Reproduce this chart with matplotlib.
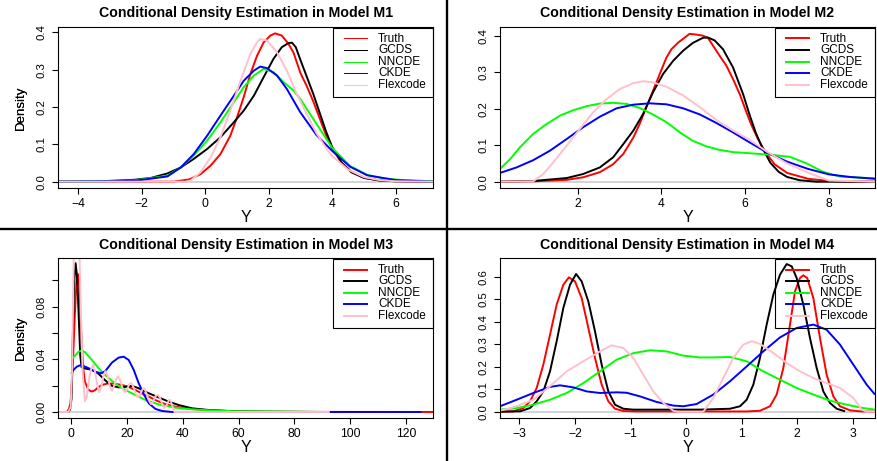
import matplotlib
matplotlib.use('Agg')
import matplotlib.pyplot as plt
from matplotlib.lines import Line2D
from matplotlib.patches import Rectangle

plt.rcParams['font.family'] = ['Liberation Sans', 'DejaVu Sans']

W, H = 878, 461

LABELS = ['Truth', 'GCDS', 'NNCDE', 'CKDE', 'Flexcode']
COLORS = ['#FF0000', '#000000', '#00FF00', '#0000FF', '#FFC0CB']

# ---------------- Model M1 ----------------
M1_TRUTH_X = [-4.62, -1.0, -0.5, -0.15, 0.17, 0.48, 0.79, 1.0, 1.21, 1.42, 1.63, 1.84, 2.05, 2.2, 2.41, 2.62,
              2.78, 3.0, 3.2, 3.4, 3.6, 3.8, 4.0, 4.3, 4.6, 5.0, 5.5, 6.0, 7.17]
M1_TRUTH_Y = [0, 0.0, 0.006, 0.02, 0.043, 0.074, 0.123, 0.172, 0.226, 0.288, 0.337, 0.373, 0.391, 0.397, 0.391,
              0.369, 0.345, 0.29, 0.255, 0.215, 0.17, 0.125, 0.088, 0.05, 0.027, 0.01, 0.003, 0.001, 0]
M1_GCDS_X = [-4.62, -3.3, -2.24, -1.71, -1.19, -0.77, -0.36, 0.06, 0.48, 0.9, 1.21, 1.53, 1.84, 2.15, 2.41,
             2.62, 2.73, 2.85, 3.0, 3.2, 3.4, 3.6, 3.8, 4.0, 4.3, 4.6, 5.0, 5.5, 6.0, 7.17]
M1_GCDS_Y = [0, 0.001, 0.005, 0.01, 0.022, 0.038, 0.061, 0.0875, 0.119, 0.159, 0.19, 0.23, 0.28, 0.329, 0.36,
             0.371, 0.372, 0.36, 0.325, 0.28, 0.235, 0.185, 0.135, 0.092, 0.05, 0.025, 0.01, 0.003, 0.001, 0]
M1_NNCDE_X = [-4.62, -3.3, -2.24, -1.19, -0.77, -0.36, 0.06, 0.48, 0.9, 1.21, 1.53, 1.84, 2.15, 2.47, 2.78,
              3.0, 3.5, 4.0, 4.56, 5.1, 5.6, 6.1, 7.17]
M1_NNCDE_Y = [0, 0.001, 0.003, 0.016, 0.038, 0.07, 0.11, 0.159, 0.2125, 0.2527, 0.284, 0.302, 0.293, 0.266,
              0.244, 0.22, 0.155, 0.09, 0.042, 0.018, 0.009, 0.005, 0.001]
M1_CKDE_X = [-4.62, -3.3, -2.24, -1.19, -0.77, -0.36, 0.06, 0.48, 0.9, 1.21, 1.53, 1.73, 1.94, 2.26, 2.57,
             2.99, 3.5, 4.0, 4.56, 5.1, 6.0, 7.17]
M1_CKDE_Y = [0, 0.001, 0.002, 0.014, 0.038, 0.074, 0.123, 0.177, 0.23, 0.27, 0.297, 0.308, 0.304, 0.284,
             0.248, 0.186, 0.125, 0.082, 0.04, 0.017, 0.004, 0.0]
M1_FLEX_X = [-4.62, -0.6, -0.46, -0.15, 0.17, 0.48, 0.79, 1.11, 1.42, 1.63, 1.73, 1.94, 2.26, 2.57, 2.88,
             3.2, 3.5, 3.8, 4.0, 4.5, 5.0, 5.5, 6.0, 7.17]
M1_FLEX_Y = [0, 0, 0.003, 0.025, 0.065, 0.119, 0.19, 0.27, 0.342, 0.373, 0.382, 0.378, 0.346, 0.297, 0.235,
             0.18, 0.13, 0.09, 0.068, 0.032, 0.012, 0.004, 0.001, 0]

# ---------------- Model M2 ----------------
M2_TRUTH_X = [0.146, 0.94, 1.74, 2.13, 2.53, 2.85, 3.09, 3.33, 3.48, 3.64, 3.80, 3.96, 4.12, 4.24, 4.4, 4.56,
              4.67, 4.83, 4.99, 5.11, 5.23, 5.39, 5.55, 5.71, 5.87, 6.03, 6.15, 6.3, 6.5, 6.7, 7.0, 7.5, 8.0,
              8.5, 9.1]
M2_TRUTH_Y = [0, 0.001, 0.005, 0.012, 0.026, 0.048, 0.076, 0.121, 0.158, 0.204, 0.249, 0.295, 0.34, 0.363,
              0.381, 0.395, 0.405, 0.403, 0.40, 0.394, 0.373, 0.345, 0.318, 0.281, 0.24, 0.19, 0.155, 0.118,
              0.078, 0.048, 0.024, 0.008, 0.002, 0.0, 0.0]
M2_GCDS_X = [0.146, 0.94, 1.74, 2.13, 2.53, 2.85, 3.09, 3.33, 3.56, 3.80, 4.04, 4.28, 4.52, 4.75, 4.99, 5.11,
             5.27, 5.47, 5.71, 5.95, 6.1, 6.25, 6.4, 6.6, 6.8, 7.0, 7.3, 7.7, 9.1]
M2_GCDS_Y = [0, 0.002, 0.01, 0.021, 0.039, 0.067, 0.103, 0.14, 0.185, 0.245, 0.295, 0.331, 0.359, 0.38,
             0.394, 0.395, 0.387, 0.363, 0.313, 0.24, 0.185, 0.135, 0.095, 0.052, 0.027, 0.013, 0.004, 0.0, 0.0]
M2_NNCDE_X = [0.146, 0.39, 0.62, 0.94, 1.26, 1.58, 1.9, 2.22, 2.53, 2.85, 3.17, 3.48, 3.80, 4.12, 4.44, 4.75,
              5.07, 5.39, 5.71, 6.1, 6.67, 7.07, 7.47, 7.86, 8.26, 9.1]
M2_NNCDE_Y = [0.035, 0.062, 0.094, 0.131, 0.158, 0.181, 0.196, 0.207, 0.214, 0.216, 0.213, 0.202, 0.184,
              0.163, 0.135, 0.112, 0.097, 0.087, 0.081, 0.078, 0.073, 0.068, 0.05, 0.027, 0.014, 0.009]
M2_CKDE_X = [0.146, 0.54, 0.94, 1.34, 1.74, 2.13, 2.53, 2.93, 3.33, 3.72, 4.12, 4.52, 4.92, 5.31, 5.71, 6.1,
             6.55, 7.0, 7.5, 8.0, 8.5, 9.1]
M2_CKDE_Y = [0.024, 0.039, 0.059, 0.085, 0.117, 0.149, 0.178, 0.201, 0.211, 0.2146, 0.212, 0.201, 0.184,
             0.161, 0.135, 0.108, 0.078, 0.055, 0.035, 0.02, 0.013, 0.008]
M2_FLEX_X = [0.146, 0.94, 1.18, 1.42, 1.74, 2.05, 2.37, 2.69, 3.01, 3.33, 3.56, 3.80, 4.12, 4.52, 4.92, 5.31,
             5.71, 6.1, 6.55, 7.0, 7.5, 8.0, 9.1]
M2_FLEX_Y = [0, 0.001, 0.021, 0.053, 0.099, 0.144, 0.19, 0.226, 0.254, 0.27, 0.275, 0.272, 0.26, 0.236,
             0.204, 0.169, 0.14, 0.115, 0.08, 0.05, 0.025, 0.003, 0]

# ---------------- Model M3 ----------------
M3_TRUTH_X = [-4.56, -1.5, -0.9, -0.3, 0.2, 0.7, 1.3, 1.9, 2.5, 2.9, 3.3, 3.7, 4.3, 4.9, 6.1, 7.3, 8.5, 9.5,
              11, 13.4, 15.8, 18.2, 20.6, 23, 25.4, 27.8, 30.2, 33.7, 37.3, 43.3, 49.3, 58, 70, 129.7]
M3_TRUTH_Y = [0, 0, 0.002, 0.006, 0.02, 0.043, 0.074, 0.099, 0.1046, 0.095, 0.075, 0.055, 0.033, 0.023,
              0.017, 0.0155, 0.0165, 0.0185, 0.0205, 0.0218, 0.0213, 0.0205, 0.019, 0.0167, 0.014, 0.0117,
              0.009, 0.006, 0.004, 0.0023, 0.0013, 0.0005, 0.0001, 0]
M3_GCDS_X = [-4.56, -1.0, -0.4, 0.1, 0.7, 1.08, 1.56, 2.0, 2.3, 2.75, 3.23, 3.7, 5.0, 7.4, 9.8, 12.2, 14.6,
             17.0, 19.4, 21.8, 24.2, 27.8, 31.4, 34.9, 38.5, 43.3, 49.3, 60, 90]
M3_GCDS_Y = [0, 0, 0.002, 0.01, 0.069, 0.099, 0.113, 0.105, 0.094, 0.069, 0.043, 0.034, 0.033, 0.032, 0.029,
             0.024, 0.0198, 0.0187, 0.019, 0.0198, 0.018, 0.0142, 0.011, 0.0079, 0.0053, 0.0028, 0.0015,
             0.0004, 0]
M3_NNCDE_X = [0, 1.44, 2.63, 3.83, 5.0, 7.4, 9.8, 12.2, 14.6, 17, 19.4, 23, 26.6, 31.3, 37.3, 43.3, 49.3, 60,
              90]
M3_NNCDE_Y = [0.0395, 0.043, 0.0458, 0.0466, 0.0453, 0.0395, 0.0332, 0.028, 0.0236, 0.0198, 0.0167, 0.0129,
              0.0091, 0.0058, 0.0033, 0.002, 0.0013, 0.0005, 0]
M3_CKDE_X = [0, 0.84, 2.0, 3.5, 5.0, 6.8, 8.6, 10.8, 12.2, 14.6, 17.0, 18.8, 20.6, 22.4, 24.2, 26.0, 27.8,
             30.2, 32.5, 36.1, 125.6]
M3_CKDE_Y = [0.029, 0.032, 0.0344, 0.0357, 0.0344, 0.0327, 0.0306, 0.0294, 0.031, 0.0375, 0.0413, 0.042,
             0.0395, 0.032, 0.0218, 0.0135, 0.0066, 0.0023, 0.0008, 0, 0]
M3_FLEX_X = [-4.56, -1.0, -0.2, 0.3, 0.7, 1.0, 1.5, 2.0, 2.5, 2.9, 3.2, 3.6, 4.1, 4.9, 5.6, 6.4, 7.2, 7.9,
             8.6, 9.3, 10.1, 10.9, 11.6, 12.3, 13.0, 13.8, 14.6, 15.4, 16.1, 16.8, 17.6, 18.4, 19.2, 20.0,
             20.8, 21.5, 22.3, 23.1, 23.9, 24.7, 25.5, 26.2, 27.0, 27.8, 28.6, 29.4, 30.2, 31.0, 31.8, 32.6,
             33.4, 34.2, 35.0, 35.6, 36.3, 37.0, 92.7]
M3_FLEX_Y = [0, 0, 0.004, 0.03, 0.09, 0.13, 0.155, 0.16, 0.15, 0.125, 0.1, 0.065, 0.03, 0.008, 0.012, 0.025,
             0.033, 0.036, 0.03, 0.021, 0.015, 0.02, 0.028, 0.031, 0.028, 0.02, 0.016, 0.02, 0.025, 0.027,
             0.024, 0.018, 0.015, 0.017, 0.021, 0.022, 0.019, 0.014, 0.011, 0.013, 0.017, 0.018, 0.014, 0.009,
             0.006, 0.008, 0.012, 0.013, 0.011, 0.006, 0.003, 0.005, 0.009, 0.009, 0.004, 0.0, 0.0]

# ---------------- Model M4 ----------------
M4_TRUTH_X = [-3.35, -3.11, -2.93, -2.81, -2.69, -2.57, -2.45, -2.33, -2.21, -2.11, -2.0, -1.88, -1.76, -1.64,
              -1.52, -1.4, -1.28, -1.13, -0.9, 1.09, 1.33, 1.51, 1.63, 1.75, 1.87, 1.96, 2.05, 2.11, 2.18,
              2.29, 2.41, 2.53, 2.65, 2.77, 2.95, 3.13, 3.4]
M4_TRUTH_Y = [0, 0.0015, 0.016, 0.046, 0.105, 0.209, 0.342, 0.476, 0.564, 0.597, 0.579, 0.505, 0.372, 0.239,
              0.12, 0.046, 0.013, 0.003, 0.001, 0.001, 0.004, 0.024, 0.076, 0.194, 0.387, 0.535, 0.594, 0.606,
              0.594, 0.505, 0.327, 0.164, 0.068, 0.024, 0.006, 0.0015, 0]
M4_GCDS_X = [-3.35, -2.99, -2.81, -2.69, -2.57, -2.45, -2.33, -2.21, -2.09, -1.98, -1.88, -1.76, -1.64, -1.52,
             -1.4, -1.28, -1.13, -0.95, 0.25, 0.79, 0.97, 1.09, 1.21, 1.33, 1.45, 1.57, 1.69, 1.81, 1.9, 1.99,
             2.11, 2.23, 2.35, 2.47, 2.59, 2.71, 2.86]
M4_GCDS_Y = [0, 0.0015, 0.016, 0.046, 0.09, 0.179, 0.313, 0.461, 0.564, 0.612, 0.579, 0.49, 0.357, 0.209,
             0.09, 0.031, 0.013, 0.009, 0.009, 0.013, 0.024, 0.053, 0.12, 0.239, 0.387, 0.52, 0.609, 0.656,
             0.646, 0.594, 0.476, 0.327, 0.194, 0.09, 0.0385, 0.013, 0.0015]
M4_NNCDE_X = [-3.35, -3.05, -2.75, -2.45, -2.15, -1.85, -1.55, -1.25, -0.95, -0.65, -0.35, -0.05, 0.25, 0.49,
              0.79, 1.09, 1.39, 1.69, 1.99, 2.29, 2.59, 2.89, 3.19, 3.4]
M4_NNCDE_Y = [0.009, 0.016, 0.031, 0.053, 0.083, 0.127, 0.179, 0.231, 0.26, 0.273, 0.268, 0.249, 0.241,
              0.241, 0.243, 0.224, 0.179, 0.142, 0.105, 0.076, 0.049, 0.031, 0.016, 0.009]
M4_CKDE_X = [-3.35, -3.05, -2.75, -2.45, -2.27, -2.03, -1.79, -1.55, -1.25, -1.07, -0.83, -0.53, -0.23, -0.05,
             0.19, 0.49, 0.79, 1.09, 1.39, 1.69, 1.99, 2.29, 2.53, 2.77, 3.01, 3.25, 3.4]
M4_CKDE_Y = [0.024, 0.053, 0.083, 0.11, 0.117, 0.108, 0.09, 0.083, 0.086, 0.084, 0.068, 0.043, 0.027, 0.024,
             0.034, 0.076, 0.135, 0.201, 0.268, 0.33, 0.372, 0.387, 0.364, 0.298, 0.209, 0.12, 0.076]
M4_FLEX_X = [-3.35, -3.05, -2.75, -2.45, -2.15, -1.85, -1.55, -1.34, -1.13, -0.95, -0.77, -0.59, -0.41, -0.23,
             -0.14, 0.31, 0.49, 0.67, 0.85, 1.03, 1.18, 1.33, 1.57, 1.81, 2.05, 2.29, 2.53, 2.77, 3.01, 3.16,
             3.25, 3.4]
M4_FLEX_Y = [0.004, 0.024, 0.053, 0.113, 0.179, 0.224, 0.268, 0.295, 0.283, 0.239, 0.164, 0.09, 0.0385,
             0.004, 0, 0, 0.061, 0.15, 0.239, 0.298, 0.313, 0.301, 0.261, 0.216, 0.179, 0.15, 0.127, 0.105,
             0.061, 0.009, 0, 0]

# ticks
M1_XTICKS = [-4, -2, 0, 2, 4, 6]
M1_XTICKLABELS = ['\u22124', '\u22122', '0', '2', '4', '6']
M1_YTICKS = [0.0, 0.1, 0.2, 0.3, 0.4]
M1_YTICKLABELS = ['0.0', '0.1', '0.2', '0.3', '0.4']
M2_XTICKS = [2, 4, 6, 8]
M2_XTICKLABELS = ['2', '4', '6', '8']
M2_YTICKS = [0.0, 0.1, 0.2, 0.3, 0.4]
M2_YTICKLABELS = ['0.0', '0.1', '0.2', '0.3', '0.4']
M3_XTICKS = [0, 20, 40, 60, 80, 100, 120]
M3_XTICKLABELS = ['0', '20', '40', '60', '80', '100', '120']
M3_YTICKS = [0.0, 0.02, 0.04, 0.06, 0.08, 0.10]
M3_YTICKLABELS = ['0.00', '', '0.04', '', '0.08', '']
M4_XTICKS = [-3, -2, -1, 0, 1, 2, 3]
M4_XTICKLABELS = ['\u22123', '\u22122', '\u22121', '0', '1', '2', '3']
M4_YTICKS = [0.0, 0.1, 0.2, 0.3, 0.4, 0.5, 0.6]
M4_YTICKLABELS = ['0.0', '0.1', '0.2', '0.3', '0.4', '0.5', '0.6']

TITLES = ['Conditional Density Estimation in Model M1', 'Conditional Density Estimation in Model M2',
          'Conditional Density Estimation in Model M3', 'Conditional Density Estimation in Model M4']

panels = [
    dict(title=TITLES[0], box=(58.5, 27, 433, 188), xlim=(-4.62, 7.17), ylim=(-0.017, 0.414),
         xt=M1_XTICKS, xtl=M1_XTICKLABELS, yt=M1_YTICKS, ytl=M1_YTICKLABELS, leg_lw=0.75,
         series=[(M1_TRUTH_X, M1_TRUTH_Y), (M1_GCDS_X, M1_GCDS_Y), (M1_NNCDE_X, M1_NNCDE_Y),
                 (M1_CKDE_X, M1_CKDE_Y), (M1_FLEX_X, M1_FLEX_Y)]),
    dict(title=TITLES[1], box=(500, 27, 875, 188), xlim=(0.146, 9.10), ylim=(-0.0173, 0.4237),
         xt=M2_XTICKS, xtl=M2_XTICKLABELS, yt=M2_YTICKS, ytl=M2_YTICKLABELS, leg_lw=1.4,
         series=[(M2_TRUTH_X, M2_TRUTH_Y), (M2_GCDS_X, M2_GCDS_Y), (M2_NNCDE_X, M2_NNCDE_Y),
                 (M2_CKDE_X, M2_CKDE_Y), (M2_FLEX_X, M2_FLEX_Y)]),
    dict(title=TITLES[2], box=(58.5, 258.3, 433, 418.3), xlim=(-4.56, 129.7), ylim=(-0.0048, 0.1167),
         xt=M3_XTICKS, xtl=M3_XTICKLABELS, yt=M3_YTICKS, ytl=M3_YTICKLABELS, leg_lw=1.4,
         series=[(M3_TRUTH_X, M3_TRUTH_Y), (M3_GCDS_X, M3_GCDS_Y), (M3_NNCDE_X, M3_NNCDE_Y),
                 (M3_CKDE_X, M3_CKDE_Y), (M3_FLEX_X, M3_FLEX_Y)]),
    dict(title=TITLES[3], box=(500, 258.3, 875, 418.3), xlim=(-3.35, 3.40), ylim=(-0.0295, 0.6816),
         xt=M4_XTICKS, xtl=M4_XTICKLABELS, yt=M4_YTICKS, ytl=M4_YTICKLABELS, leg_lw=1.4,
         series=[(M4_TRUTH_X, M4_TRUTH_Y), (M4_GCDS_X, M4_GCDS_Y), (M4_NNCDE_X, M4_NNCDE_Y),
                 (M4_CKDE_X, M4_CKDE_Y), (M4_FLEX_X, M4_FLEX_Y)]),
]


def fx(px):
    return px / W


def fy(py):
    return 1 - py / H


fig = plt.figure(figsize=(W / 100, H / 100), dpi=100)
fig.patch.set_facecolor('white')

for p in panels:
    l, t, r, b = p['box']
    ax = fig.add_axes([fx(l), fy(b), (r - l) / W, (b - t) / H])
    ax.axhline(0, color='#C8C8C8', lw=1.1, zorder=1)
    for (xs, ys), c in zip(p['series'], COLORS):
        ax.plot(xs, ys, color=c, lw=1.4, zorder=2, solid_joinstyle='round', solid_capstyle='butt')
    ax.set_xlim(*p['xlim'])
    ax.set_ylim(*p['ylim'])
    ax.set_xticks(p['xt'])
    ax.set_xticklabels(p['xtl'])
    ax.set_yticks(p['yt'])
    ax.set_yticklabels(p['ytl'], rotation=90, va='center')
    ax.tick_params(axis='both', direction='out', length=4.1, width=0.8, color='black')
    ax.tick_params(axis='x', labelsize=8.7, pad=3.0)
    ax.tick_params(axis='y', labelsize=8.2, pad=4.5)
    for s in ax.spines.values():
        s.set_linewidth(0.8)
        s.set_color('black')
    ax.set_title(p['title'], fontsize=10.2, fontweight='bold', pad=7)
    ax.set_ylabel('Density', fontsize=9.5)
    ax.yaxis.set_label_coords(-(l - 20.7) / (r - l), 0.5)
    ax.yaxis.label.set_va('center')
    ax.set_xlabel('Y', fontsize=11.5)
    ax.xaxis.set_label_coords(0.5, -29.5 / (b - t))
    ax.xaxis.label.set_va('center')

    # legend (transparent background, drawn like R's legend)
    bl, bt, bb = r - 100, t + 1, t + 69.5
    fig.add_artist(Rectangle((fx(bl), fy(bb)), 100 / W, (bb - bt) / H, fill=False, ec='black', lw=0.8,
                             transform=fig.transFigure, zorder=5))
    for i, (lab, c) in enumerate(zip(LABELS, COLORS)):
        yy = bt + 10.5 + 11.55 * i
        fig.add_artist(Line2D([fx(bl + 11), fx(bl + 34.5)], [fy(yy), fy(yy)], color=c, lw=p['leg_lw'],
                              transform=fig.transFigure, zorder=5))
        fig.text(fx(bl + 45), fy(yy), lab, fontsize=8.5, va='center', ha='left', zorder=5)

# panel separators
fig.add_artist(Line2D([0, 1], [fy(229), fy(229)], color='black', lw=1.7, transform=fig.transFigure))
fig.add_artist(Line2D([fx(447), fx(447)], [0, 1], color='black', lw=1.7, transform=fig.transFigure))

fig.savefig('out.png', dpi=100)
